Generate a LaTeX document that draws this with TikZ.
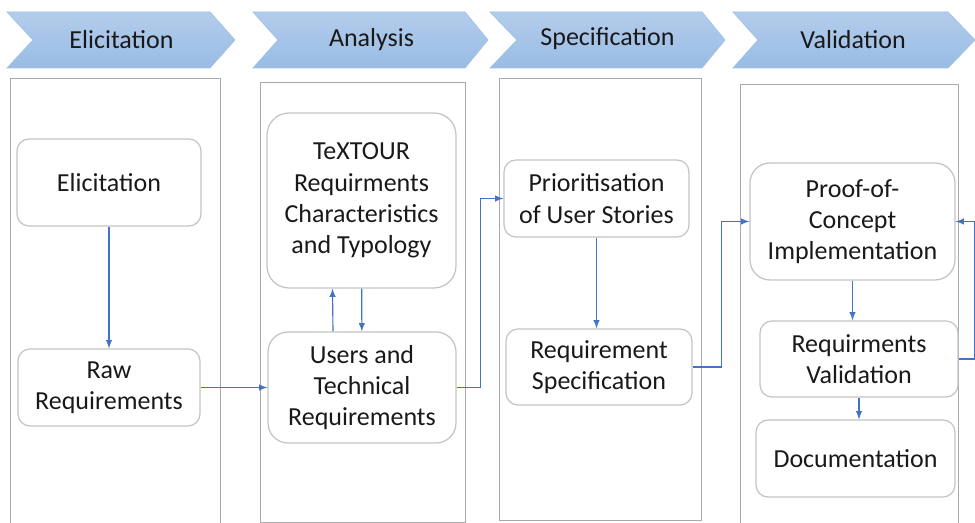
\documentclass[tikz,border=0pt]{standalone}
\usepackage{fontspec}
\setmainfont{Carlito}
\usetikzlibrary{arrows}

\definecolor{linkblue}{RGB}{68,114,196}
\definecolor{phasetop}{RGB}{180,204,235}
\definecolor{phasebot}{RGB}{152,188,229}
\definecolor{phaseedge}{RGB}{160,193,230}
\definecolor{boxedge}{RGB}{195,195,195}
\definecolor{paneledge}{RGB}{170,170,170}
\definecolor{ink}{RGB}{25,25,25}

\begin{document}
\begin{tikzpicture}[
    font=\fontsize{14.8}{17.8}\selectfont, text=ink,
    phase/.style={top color=phasetop, bottom color=phasebot, draw=phaseedge, line width=0.4pt},
    panel/.style={draw=paneledge, line width=0.55pt},
    reqbox/.style={draw=boxedge, rounded corners=0.24cm, align=center, inner sep=0pt, line width=0.7pt},
    link/.style={-latex, draw=linkblue, line width=0.65pt}
  ]
    \useasboundingbox (0,0) rectangle (19.5,10.46);

    % phase arrows along the top
    \draw [phase] (0.14,10.22) -- (4.2,10.22) -- (4.7,9.66) -- (4.2,9.1) -- (0.14,9.1) -- (0.66,9.66) -- cycle;
    \node (ph1) at (2.43,9.66) {Elicitation};
    \draw [phase] (5.06,10.22) -- (9.3,10.22) -- (9.76,9.66) -- (9.3,9.1) -- (5.06,9.1) -- (5.56,9.66) -- cycle;
    \node (ph2) at (7.43,9.66) {Analysis};
    \draw [phase] (9.8,10.22) -- (14.04,10.22) -- (14.5,9.66) -- (14.04,9.1) -- (9.8,9.1) -- (10.34,9.66) -- cycle;
    \node (ph3) at (12.15,9.68) {Specification};
    \draw [phase] (14.66,10.22) -- (18.96,10.22) -- (19.5,9.66) -- (18.96,9.1) -- (14.66,9.1) -- (15.16,9.66) -- cycle;
    \node (ph4) at (17.06,9.66) {Validation};

    % one column per phase
    \draw [panel] (0.2,8.9) rectangle (4.4,-0.1);
    \draw [panel] (5.2,8.82) rectangle (9.3,0.02);
    \draw [panel] (9.98,8.9) rectangle (14.02,0.06);
    \draw [panel] (14.8,8.78) rectangle (19.16,-0.1);

    \node [reqbox, minimum width=3.68cm, minimum height=1.74cm] (elic) at (2.18,6.81) {Elicitation};
    \node [reqbox, minimum width=3.64cm, minimum height=1.54cm] (raw) at (2.18,2.71) {Raw\\Requirements};

    \node [reqbox, rounded corners=0.44cm, minimum width=3.78cm, minimum height=3.5cm] (textour) at (7.23,6.45) {TeXTOUR\\Requirments\\Characteristics\\and Typology};
    \node [reqbox, rounded corners=0.4cm, minimum width=3.76cm, minimum height=2.22cm] (users) at (7.24,2.71) {Users and\\Technical\\Requirements};

    \node [reqbox, minimum width=3.7cm, minimum height=1.54cm] (prio) at (11.93,6.49) {Prioritisation\\of User Stories};
    \node [reqbox, minimum width=3.72cm, minimum height=1.52cm] (spec) at (11.98,3.12) {Requirement\\Specification};

    \node [reqbox, rounded corners=0.4cm, minimum width=4.1cm, minimum height=2.34cm] (poc) at (17.05,6.03) {Proof-of-\\Concept\\Implementation};
    \node [reqbox, minimum width=3.96cm, minimum height=1.52cm] (valid) at (17.18,3.28) {Requirments\\Validation};
    \node [reqbox, minimum width=3.98cm, minimum height=1.54cm] (doc) at (17.11,1.29) {Documentation};

    \draw [link] (elic) -- (raw);
    \draw [link] (raw) -- (users);
    \draw [link] ([xshift=-0.58cm]users.north) -- ([xshift=-0.58cm]textour.south);
    \draw [link] (textour) -- (users);
    \draw [link] (users.east) -- ++(0.48,0) |- (prio.west);
    \draw [link] (prio.south) -- (prio.south |- spec.north);
    \draw [link] (spec.east) -- ++(0.58,0) |- (poc.west);
    \draw [link] (poc.south) -- (poc.south |- valid.north);
    \draw [link] (valid.south) -- (valid.south |- doc.north);
    \draw [link] (valid.east) -- ++(0.32,0) |- (poc.east);
  \end{tikzpicture}
\end{document}
